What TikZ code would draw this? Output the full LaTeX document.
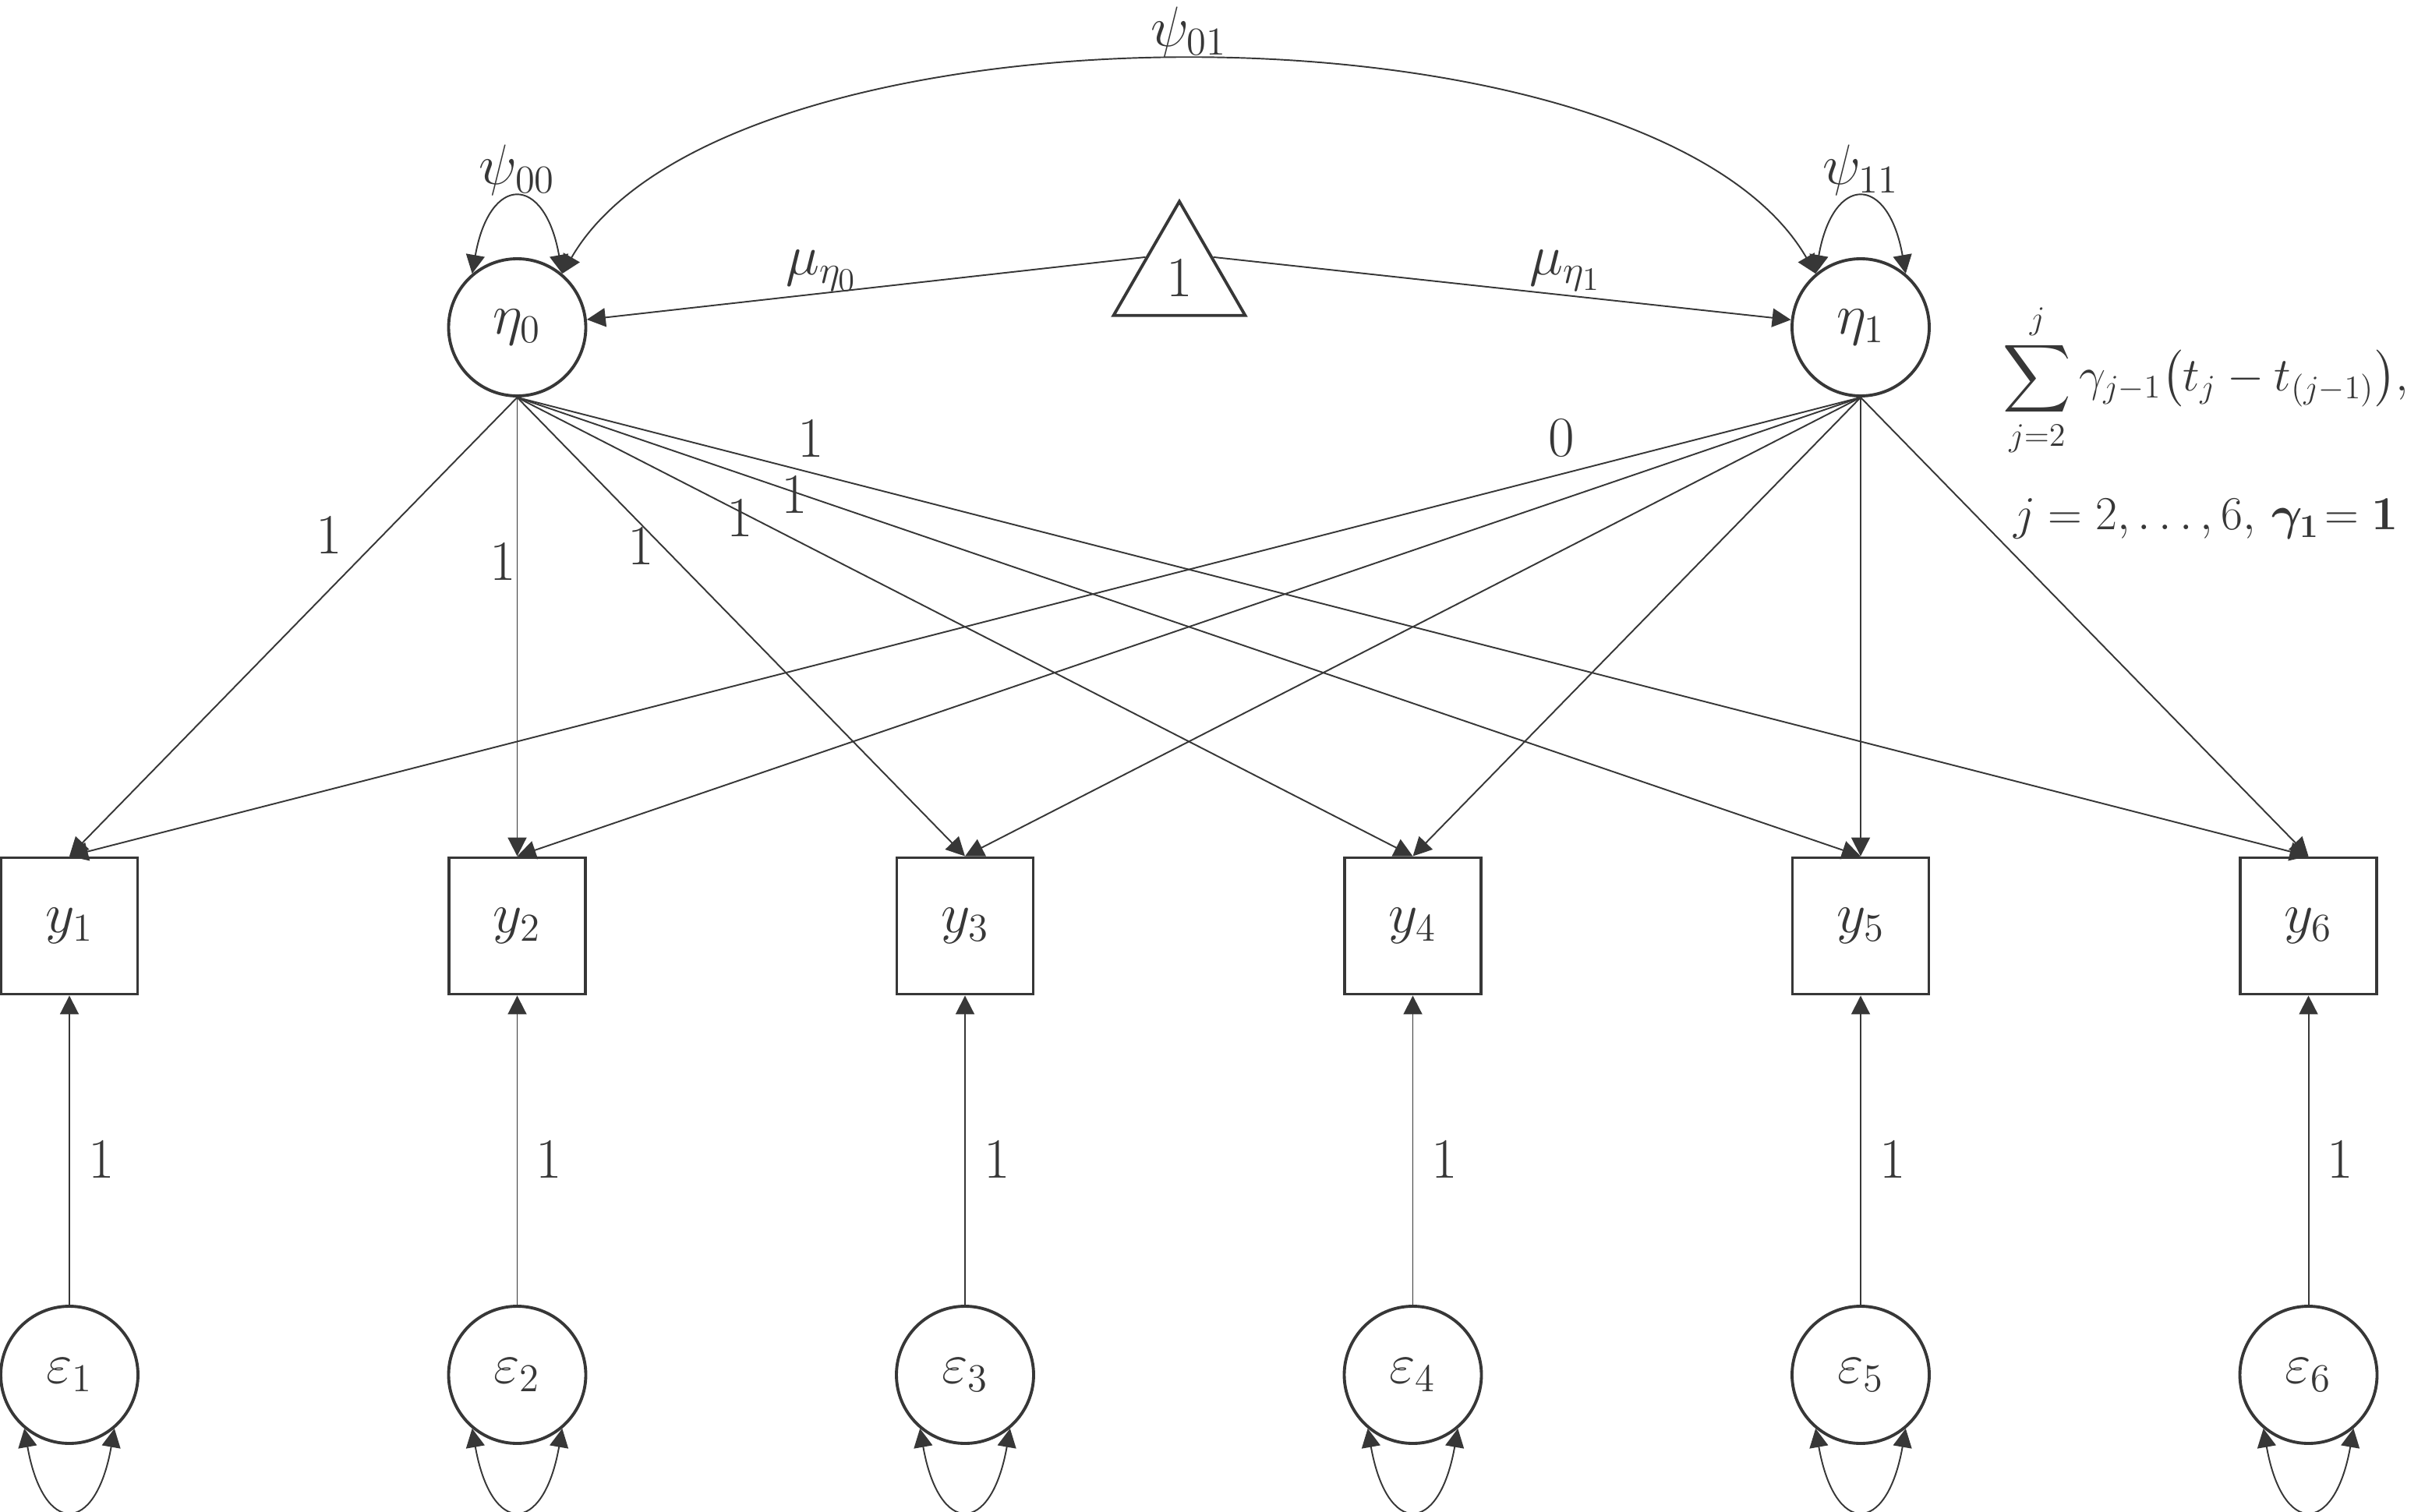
\documentclass[tikz,border=0pt]{standalone}
\usepackage{amsmath}
\usepackage{tikz}
\usetikzlibrary{arrows.meta,shapes.geometric,positioning}
\definecolor{pathgray}{RGB}{55,55,55}

\begin{document}
\begin{tikzpicture}[color=pathgray,font=\huge,
        latent/.style={circle,draw,line width=1.1pt,minimum size=1.76cm,inner sep=0pt},
        manifest/.style={rectangle,draw,line width=1.1pt,minimum size=1.75cm,inner sep=0pt},
        arr/.style={-{Triangle[length=0.24cm,width=0.24cm]},line width=0.55pt},
        dbl/.style={{Triangle[length=0.24cm,width=0.24cm]}-{Triangle[length=0.24cm,width=0.24cm]},line width=0.55pt}]
    \useasboundingbox (0,0) rectangle (31.2,-19.4);
    \node[latent] (eta0) at (6.635,-4.2) {$\eta_0$};
    \node[latent] (eta1) at (23.87,-4.2) {$\eta_1$};
    \node[regular polygon,regular polygon sides=3,draw,line width=1.1pt,minimum size=1.95cm,inner sep=0pt] (one) at (15.13,-3.56) {1};
    \foreach \i/\x in {1/0.89,2/6.635,3/12.38,4/18.125,5/23.87,6/29.615} {
        \node[manifest] (y\i) at (\x,-11.88) {$y_\i$};
        \node[latent] (e\i) at (\x,-17.64) {$\varepsilon_\i$};
        \draw[arr] (e\i) -- node[pos=0.47,xshift=0.41cm]{1} (y\i);
        \draw[dbl] (e\i.230) to[out=280,in=260,distance=1.4cm] (e\i.310);
    }
    \foreach \i/\p/\dx/\dy in {1/0.30/-0.69/0,2/0.358/-0.18/0,3/0.324/-0.27/0,4/0.262/-0.15/0,5/0.211/-0.08/0,6/0.164/0/0.44}
        \draw[arr] (eta0.south) -- node[pos=\p,xshift=\dx cm,yshift=\dy cm]{1} (y\i.north);
    \draw[arr] (eta1.south) -- node[pos=0.167,yshift=0.46cm]{0} (y1.north);
    \foreach \i in {2,...,6}
        \draw[arr] (eta1.south) -- (y\i.north);
    \draw[arr] (one.149) -- node[pos=0.58,yshift=0.29cm]{$\mu_{\eta_0}$} (eta0);
    \draw[arr] (one.31) -- node[pos=0.61,yshift=0.32cm]{$\mu_{\eta_1}$} (eta1);
    \draw[dbl] (eta0.130) to[out=80,in=100,distance=1.3cm] node[above,inner sep=1pt]{$\psi_{00}$} (eta0.50);
    \draw[dbl] (eta1.130) to[out=80,in=100,distance=1.3cm] node[above,inner sep=1pt]{$\psi_{11}$} (eta1.50);
    \draw[dbl] (eta0.50) to[out=60,in=120,distance=4.2cm] node[above,inner sep=1pt]{$\psi_{01}$} (eta1.130);
    \node[anchor=north,align=center,inner sep=0pt,font=\LARGE] (gsum) at (28.3,-3.88) {$\displaystyle\sum_{j=2}^{j}\gamma_{j-1}\bigl(t_j-t_{(j-1)}\bigr),$\\[0.5cm]$j=2,\ldots,6,\,\boldsymbol{\gamma_1}\!=\mathbf{1}$};
\end{tikzpicture}
\end{document}
